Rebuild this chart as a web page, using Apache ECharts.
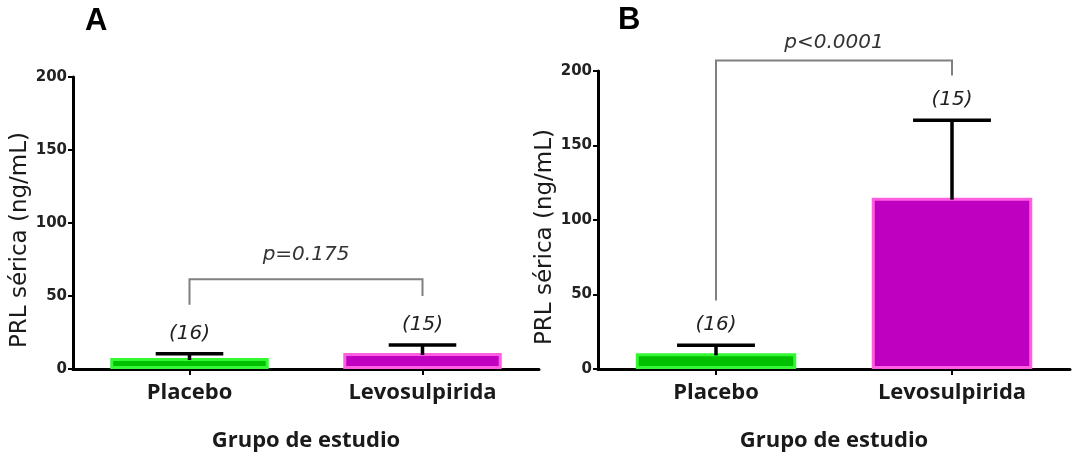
<!DOCTYPE html>
<html>
<head>
<meta charset="utf-8">
<script src="https://cdn.jsdelivr.net/npm/echarts@6/dist/echarts.min.js"></script>
<style>
  html, body { margin: 0; padding: 0; background: #fff; }
  #chart { width: 1089px; height: 457px; }
</style>
</head>
<body>
<div id="chart"></div>
<script>
// data
const groups = ['Placebo', 'Levosulpirida'];
const meanA = [7.5, 11];
const errA = [3, 5.5];
const nA = ['(16)', '(15)'];
const meanB = [10.5, 115];
const errB = [5.5, 52];
const nB = ['(16)', '(15)'];
// significance brackets: [left leg end, top, right leg end]
const bracketA = [44, 61.5, 50];
const bracketB = [46, 207, 197];
const pA = 'p=0.175';
const pB = 'p<0.0001';

const fillColors = ['#00c000', '#c000c0'];
const edgeColors = ['#33f833', '#ff5fe0'];

const chart = echarts.init(document.getElementById('chart'));

function barData(means) {
    return means.map((v, i) => ({
        value: v,
        itemStyle: { color: fillColors[i], borderColor: edgeColors[i] }
    }));
}

function errorSeries(idx, means, errs, labels, capFrac) {
    return {
        type: 'custom',
        xAxisIndex: idx,
        yAxisIndex: idx,
        z: 5,
        data: means.map((m, i) => [i, m, errs[i]]),
        encode: { x: 0, y: 1 },
        renderItem: function (params, api) {
            const x = api.value(0);
            const base = api.coord([x, api.value(1)]);
            const top = api.coord([x, api.value(1) + api.value(2)]);
            const half = api.size([1, 0])[0] * capFrac / 2;
            const lineStyle = { stroke: '#000', lineWidth: 3.5 };
            return {
                type: 'group',
                children: [
                    { type: 'line', shape: { x1: base[0], y1: base[1] + 2, x2: top[0], y2: top[1] }, style: lineStyle },
                    { type: 'line', shape: { x1: top[0] - half, y1: top[1], x2: top[0] + half, y2: top[1] }, style: lineStyle },
                    {
                        type: 'text',
                        x: top[0], y: top[1] - 20,
                        style: {
                            text: labels[params.dataIndex],
                            align: 'center', verticalAlign: 'middle',
                            font: 'oblique 20px "DejaVu Sans"', fill: '#222'
                        }
                    }
                ]
            };
        }
    };
}

function bracketSeries(idx, br, ptext, textGap) {
    return {
        type: 'custom',
        xAxisIndex: idx,
        yAxisIndex: idx,
        z: 4,
        clip: false,
        data: [[0, br[1], br[0], br[2]]],
        encode: { x: 0, y: 1 },
        renderItem: function (params, api) {
            const l0 = api.coord([0, api.value(2)]);
            const lt = api.coord([0, api.value(1)]);
            const rt = api.coord([1, api.value(1)]);
            const r0 = api.coord([1, api.value(3)]);
            return {
                type: 'group',
                children: [
                    {
                        type: 'polyline',
                        shape: { points: [l0, lt, rt, r0] },
                        style: { stroke: '#808080', lineWidth: 2, fill: null }
                    },
                    {
                        type: 'text',
                        x: (lt[0] + rt[0]) / 2, y: lt[1] - textGap,
                        style: {
                            text: ptext,
                            align: 'center', verticalAlign: 'middle',
                            font: 'oblique 20px "DejaVu Sans"', fill: '#333'
                        }
                    }
                ]
            };
        }
    };
}

function yAxisOpt(idx) {
    return {
        type: 'value',
        gridIndex: idx,
        min: 0, max: 200, interval: 50,
        name: 'PRL sérica (ng/mL)',
        nameLocation: 'middle',
        nameGap: 37,
        nameRotate: 90,
        nameTextStyle: { fontFamily: 'DejaVu Sans', fontSize: 23, color: '#1a1a1a', padding: [0, 34, 0, 0] },
        axisLine: { show: true, lineStyle: { color: '#000', width: 3 } },
        axisTick: { show: true, length: 5, lineStyle: { color: '#000', width: 2 } },
        axisLabel: { fontFamily: 'DejaVu Sans', fontWeight: 'bold', fontSize: 15, color: '#222', margin: 6 },
        splitLine: { show: false }
    };
}

function xAxisOpt(idx) {
    return {
        type: 'category',
        gridIndex: idx,
        data: groups,
        name: 'Grupo de estudio',
        nameLocation: 'middle',
        nameGap: 61,
        nameTextStyle: { fontFamily: 'Open Sans', fontWeight: 'bold', fontSize: 22, color: '#1a1a1a' },
        axisLine: { show: true, lineStyle: { color: '#000', width: 3 } },
        axisTick: { show: true, alignWithLabel: true, length: 6, lineStyle: { color: '#000', width: 2 } },
        axisLabel: { fontFamily: 'Open Sans', fontWeight: 'bold', fontSize: 22, color: '#1a1a1a', margin: 13 }
    };
}

const option = {
    backgroundColor: '#fff',
    animation: false,
    grid: [
        { left: 73, top: 77, width: 466, height: 292, outerBoundsMode: 'none', containLabel: false },
        { left: 598, top: 71, width: 472, height: 298, outerBoundsMode: 'none', containLabel: false }
    ],
    xAxis: [xAxisOpt(0), xAxisOpt(1)],
    yAxis: [yAxisOpt(0), yAxisOpt(1)],
    graphic: [
        { type: 'text', left: 85, top: 6, style: { text: 'A', font: 'bold 31px "Liberation Sans"', fill: '#000' } },
        { type: 'text', left: 618, top: 5, style: { text: 'B', font: 'bold 31px "Liberation Sans"', fill: '#000' } }
    ],
    series: [
        { type: 'bar', xAxisIndex: 0, yAxisIndex: 0, barWidth: '68%', itemStyle: { borderWidth: 3 }, data: barData(meanA) },
        { type: 'bar', xAxisIndex: 1, yAxisIndex: 1, barWidth: '68%', itemStyle: { borderWidth: 3 }, data: barData(meanB) },
        errorSeries(0, meanA, errA, nA, 0.29),
        errorSeries(1, meanB, errB, nB, 0.33),
        bracketSeries(0, bracketA, pA, 24),
        bracketSeries(1, bracketB, pB, 18)
    ]
};

chart.setOption(option);
</script>
</body>
</html>
